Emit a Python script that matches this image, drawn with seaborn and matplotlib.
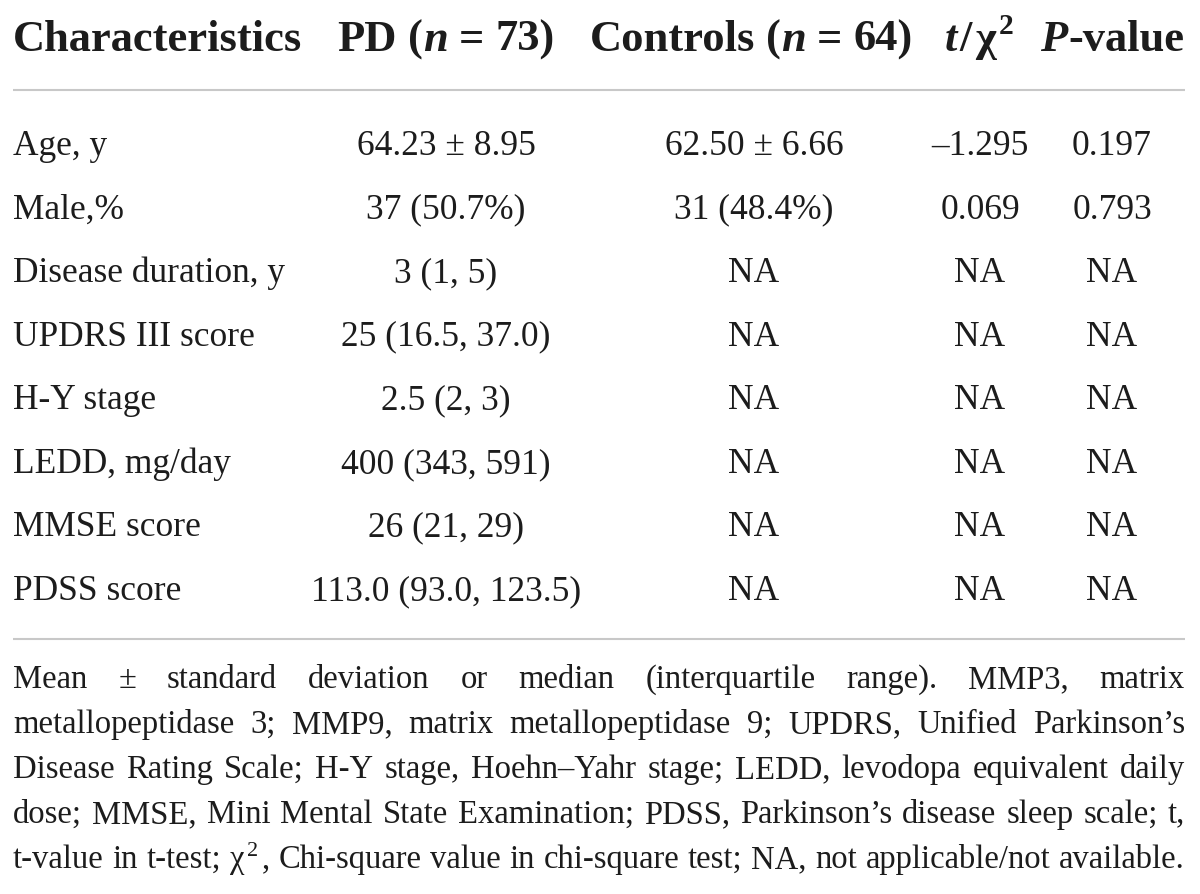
import matplotlib
matplotlib.use("Agg")
import matplotlib.pyplot as plt
import seaborn as sns

# table content
characteristics = ["Age, y", "Male,%", "Disease duration, y", "UPDRS III score",
                   "H-Y stage", "LEDD, mg/day", "MMSE score", "PDSS score"]
pd_group = ["64.23 ± 8.95", "37 (50.7%)", "3 (1, 5)", "25 (16.5, 37.0)",
            "2.5 (2, 3)", "400 (343, 591)", "26 (21, 29)", "113.0 (93.0, 123.5)"]
controls = ["62.50 ± 6.66", "31 (48.4%)", "NA", "NA", "NA", "NA", "NA", "NA"]
t_chi2 = ["–1.295", "0.069", "NA", "NA", "NA", "NA", "NA", "NA"]
p_values = ["0.197", "0.793", "NA", "NA", "NA", "NA", "NA", "NA"]

footnote_lines = [
    "Mean ± standard deviation or median (interquartile range). MMP3, matrix",
    "metallopeptidase 3; MMP9, matrix metallopeptidase 9; UPDRS, Unified Parkinson’s",
    "Disease Rating Scale; H-Y stage, Hoehn–Yahr stage; LEDD, levodopa equivalent daily",
    "dose; MMSE, Mini Mental State Examination; PDSS, Parkinson’s disease sleep scale; t,",
    "t-value in t-test; χ^2, Chi-square value in chi-square test; NA, not applicable/not available.",
]

sns.set_theme(style="white")
plt.rcParams["font.family"] = ["Liberation Serif", "DejaVu Serif"]

TEXT = "#1c1c1c"
RULE = "#c8c8c8"
HEAD_SIZE = 32
BODY_SIZE = 25.5
NOTE_SIZE = 23.5
LEFT, RIGHT = 13, 1185

fig = plt.figure(figsize=(12, 8.94), dpi=100)
ax = fig.add_axes([0, 0, 1, 1])
ax.set_xlim(0, 1200)
ax.set_ylim(894, 0)
ax.axis("off")
renderer = fig.canvas.get_renderer()


def ink_width(s, **kw):
    t = ax.text(0, 0, s, **kw)
    w = t.get_window_extent(renderer).width
    t.remove()
    return w


def run_width(run):
    text, kw, dy = run
    if text == " ":
        return ink_width("n n", **kw) - ink_width("nn", **kw)
    return ink_width(text, **kw)


def draw_runs(x, y, runs, pad=0):
    widths = [run_width(r) for r in runs]
    total = sum(widths) + pad * (len(runs) - 1)
    cur = x - total / 2
    for (text, kw, dy), w in zip(runs, widths):
        if text != " ":
            ax.text(cur, y + dy, text, ha="left", va="baseline", color=TEXT, **kw)
        cur += w + pad


# header
hb = dict(fontsize=HEAD_SIZE, fontweight="bold")
hbi = dict(fontsize=HEAD_SIZE, fontweight="bold", fontstyle="italic")
hsup = dict(fontsize=HEAD_SIZE * 0.66, fontweight="bold")
header_y = 51
ax.text(LEFT, header_y, "Characteristics", ha="left", va="baseline", color=TEXT, **hb)
draw_runs(446, header_y, [("PD", hb, 0), (" ", hb, 0), ("(", hb, 0), ("n", hbi, 0),
                          (" ", hb, 0), ("=", hb, 0), (" ", hb, 0), ("73)", hb, 0)])
draw_runs(751, header_y, [("Controls", hb, 0), (" ", hb, 0), ("(", hb, 0), ("n", hbi, 0),
                          (" ", hb, 0), ("=", hb, 0), (" ", hb, 0), ("64)", hb, 0)])
draw_runs(979, header_y, [("t", hbi, 0), ("/", hb, 0), ("χ", hb, 0), ("2", hsup, -17)], pad=3)
draw_runs(1112, header_y, [("P", hbi, 0), ("-value", hb, 0)], pad=1)

ax.plot([LEFT, RIGHT], [90, 90], color=RULE, lw=1.5, solid_capstyle="butt")

# body rows
for i, name in enumerate(characteristics):
    y = 155 + 63.57 * i
    ax.text(LEFT, y, name, ha="left", va="baseline", fontsize=BODY_SIZE, color=TEXT)
    ax.text(446, y, pd_group[i], ha="center", va="baseline", fontsize=BODY_SIZE, color=TEXT)
    ax.text(754, y, controls[i], ha="center", va="baseline", fontsize=BODY_SIZE, color=TEXT)
    ax.text(980, y, t_chi2[i], ha="center", va="baseline", fontsize=BODY_SIZE, color=TEXT)
    ax.text(1112, y, p_values[i], ha="center", va="baseline", fontsize=BODY_SIZE, color=TEXT)

ax.plot([LEFT, RIGHT], [639, 639], color=RULE, lw=1.5, solid_capstyle="butt")

# footnote, justified between the rule ends
nk = dict(fontsize=NOTE_SIZE)
nsup = dict(fontsize=NOTE_SIZE * 0.68)
for j, line in enumerate(footnote_lines):
    y = 688 + 45 * j
    words = []
    for w in line.split(" "):
        if "^2" in w:
            base, rest = w.split("^2")
            words.append([(base, nk, 0), ("2", nsup, -12), (rest, nk, 0)])
        else:
            words.append([(w, nk, 0)])
    widths = [sum(run_width(r) for r in word) + 3 * (len(word) - 1) for word in words]
    gap = (RIGHT - LEFT - sum(widths)) / (len(words) - 1)
    cur = LEFT
    for word, wd in zip(words, widths):
        x = cur
        for run in word:
            text, kw, dy = run
            ax.text(x, y + dy, text, ha="left", va="baseline", color=TEXT, **kw)
            x += run_width(run) + 3
        cur += wd + gap

fig.savefig("out.png", dpi=100, facecolor="white")
